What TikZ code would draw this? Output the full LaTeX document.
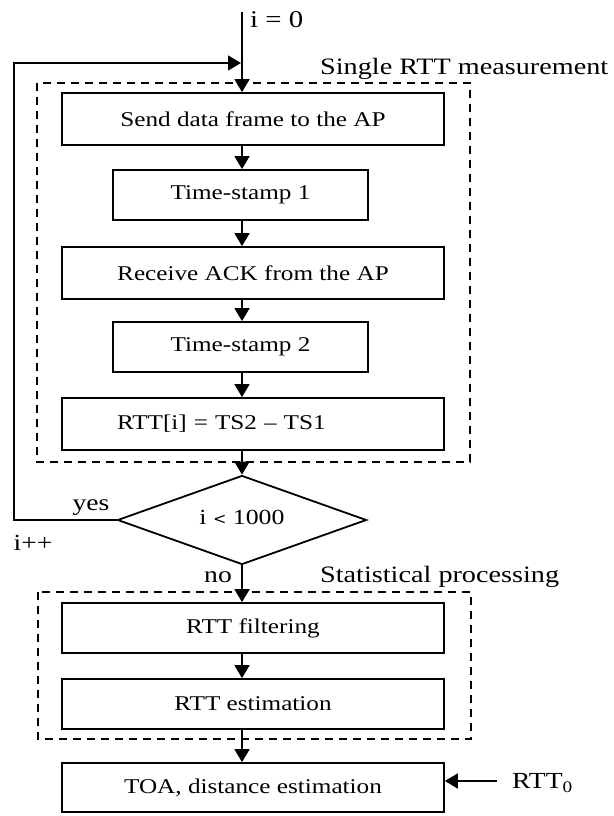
\documentclass[tikz,border=0pt]{standalone}
\usepackage{fontspec}
\setmainfont{Liberation Serif}[FakeStretch=1.2]
\usetikzlibrary{arrows.meta,shapes.geometric}
\begin{document}
\begin{tikzpicture}[x=1pt,y=-1pt,
  boxtext/.style={font=\fontsize{21}{24}\selectfont},
  lbl/.style={font=\fontsize{23}{26}\selectfont, inner sep=0pt},
  stepbox/.style={draw, line width=1.8pt, boxtext, inner sep=0pt, anchor=center},
  widebox/.style={stepbox, minimum width=382pt, minimum height=52pt},
  narrowbox/.style={stepbox, minimum width=255pt, minimum height=50pt},
  groupbox/.style={draw, line width=1.6pt, dash pattern=on 8pt off 6pt},
  flow/.style={line width=1.8pt, -{Triangle[width=15pt,length=13pt]}}
]
\useasboundingbox (0,0) rectangle (613,816);

% group frames
\draw[groupbox] (37,83) rectangle (470,462);
\draw[groupbox] (38,592) rectangle (471,739);

% nodes
\node[widebox] (b1) at (253,119) {Send data frame to the AP};
\node[narrowbox] (b2) at (240.5,195) {Time-stamp 1};
\node[widebox] (b3) at (253,273) {Receive ACK from the AP};
\node[narrowbox] (b4) at (240.5,347) {Time-stamp 2};
\node[widebox, minimum height=52pt, text width=272pt, inner xsep=55pt, align=left] (b5) at (253,424) {RTT[i] = TS2 -- TS1};
\node[draw, shape=diamond, line width=1.8pt, inner sep=0pt, minimum width=249pt, minimum height=89pt, aspect=2.8, font=\fontsize{21.5}{24}\selectfont] (d) at (242,520) {\raisebox{6pt}{i {\fontspec{DejaVu Serif}\fontsize{16}{18}\selectfont<} 1000}};
\node[widebox, minimum height=50pt] (b6) at (253,628) {RTT filtering};
\node[widebox, minimum height=50pt] (b7) at (253,704) {RTT estimation};
\node[widebox, minimum height=49pt] (b8) at (253,787.5) {TOA, distance estimation};

% labels
\node[lbl, anchor=west, font=\fontsize{24}{26}\selectfont] (l0) at (250,20) {i = 0};
\node[lbl, anchor=west, font=\fontsize{23.5}{26}\selectfont] (lsingle) at (320,69) {Single RTT measurement};
\node[lbl, anchor=west, font=\fontsize{23.5}{26}\selectfont] (lstat) at (320,577) {Statistical processing};
\node[lbl] (lyes) at (91,508) {yes};
\node[lbl] (linc) at (33,543) {i++};
\node[lbl] (lno) at (218,577) {no};
\node[lbl, anchor=west] (lr0) at (512,783) {RTT\textsubscript{0}};

% helper coordinates
\coordinate (top) at (242,12);
\coordinate (cx) at (242,0);
\coordinate (loopin) at (241,63);
\coordinate (lc) at (14,520);
\coordinate (r0) at (497,781);

% connectors
\draw[flow] (top) -- (b1.north -| cx);
\draw[flow] (b1.south -| cx) -- (b2.north -| cx);
\draw[flow] (b2.south -| cx) -- (b3.north -| cx);
\draw[flow] (b3.south -| cx) -- (b4.north -| cx);
\draw[flow] (b4.south -| cx) -- (b5.north -| cx);
\draw[flow] (b5.south -| cx) -- (d.north);
\draw[flow] (d.west) -- (lc) |- (loopin);
\draw[flow] (d.south) -- (b6.north -| cx);
\draw[flow] (b6.south -| cx) -- (b7.north -| cx);
\draw[flow] (b7.south -| cx) -- (b8.north -| cx);
\draw[flow] (r0) -- (b8.east |- r0);
\end{tikzpicture}
\end{document}
